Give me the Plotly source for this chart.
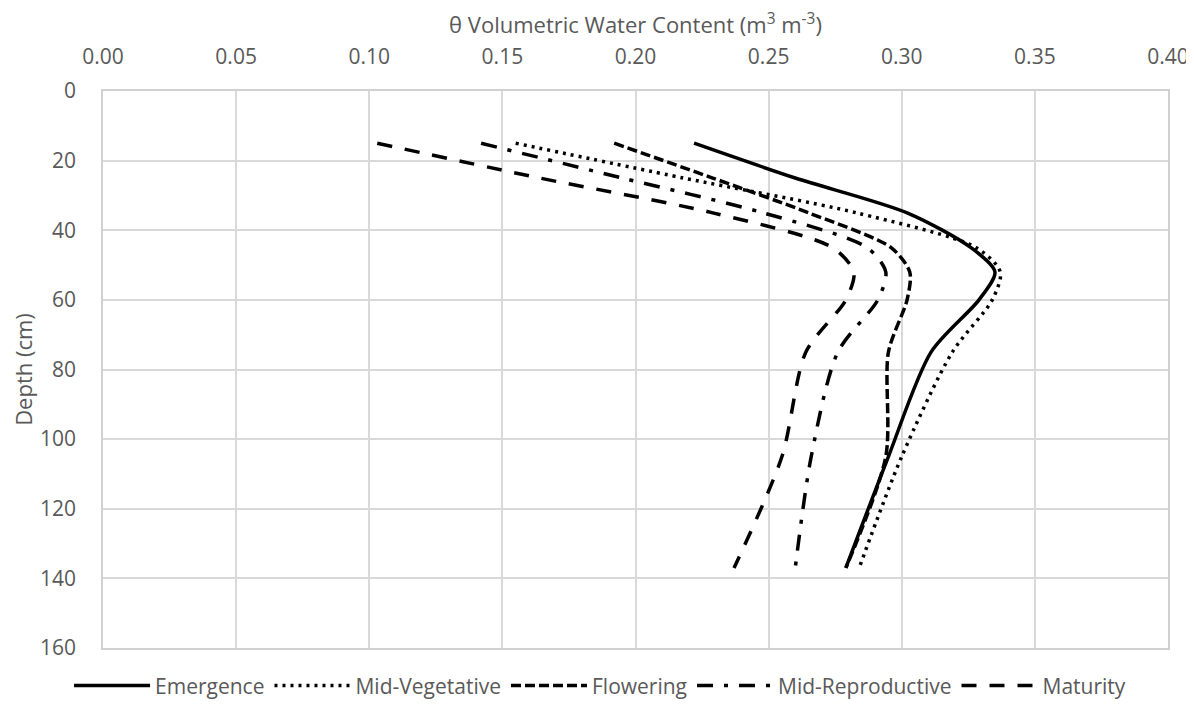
import plotly.graph_objects as go

depth = [15, 25, 35, 45, 52, 60, 75, 105, 137]

emergence = [0.222, 0.260, 0.302, 0.326, 0.335, 0.329, 0.311, 0.295, 0.279]
mid_vegetative = [0.155, 0.218, 0.283, 0.328, 0.337, 0.334, 0.319, 0.300, 0.284]
flowering = [0.192, 0.229, 0.265, 0.296, 0.303, 0.302, 0.295, 0.294, 0.279]
mid_reproductive = [0.142, 0.195, 0.248, 0.287, 0.294, 0.291, 0.276, 0.266, 0.260]
maturity = [0.103, 0.164, 0.229, 0.274, 0.282, 0.279, 0.264, 0.255, 0.237]

series_names = ["Emergence", "Mid-Vegetative", "Flowering", "Mid-Reproductive", "Maturity"]
series_values = [emergence, mid_vegetative, flowering, mid_reproductive, maturity]
dashes = ["solid", "3px,5px", "10px,4px", "16px,11px,4px,11px", "15px,13px"]

x_title = "θ Volumetric Water Content (m<sup>3</sup> m<sup>-3</sup>)"
y_title = "Depth (cm)"

FONT = "Open Sans, Liberation Sans, sans-serif"
GREY = "#595959"

fig = go.Figure()
for name, vals, dash in zip(series_names, series_values, dashes):
    fig.add_trace(go.Scatter(
        x=vals, y=depth, mode="lines", name=name,
        line=dict(color="black", width=3.5, dash=dash, shape="spline", smoothing=0.8),
    ))

fig.update_layout(
    width=1186, height=696,
    margin=dict(l=95, r=26, t=83, b=56),
    paper_bgcolor="white", plot_bgcolor="white",
    font=dict(family=FONT, color=GREY, size=21),
    showlegend=True,
    legend=dict(orientation="h", xref="container", x=0.4992, xanchor="center",
                yref="container", y=0.026, yanchor="middle",
                font=dict(size=21, color=GREY), itemwidth=76, traceorder="normal"),
    xaxis=dict(
        range=[0, 0.40], dtick=0.05, tick0=0, tickformat=".2f", side="top",
        showgrid=True, gridcolor="#d9d9d9", gridwidth=1.5, zeroline=False,
        showline=True, mirror=True, linecolor="#d0d0d0", linewidth=1.5,
        ticks="", ticklabelstandoff=17, automargin=False, ticklabeloverflow="allow",
        tickfont=dict(size=21, color=GREY),
        title=dict(text=x_title, font=dict(size=22, color=GREY), standoff=4),
    ),
    yaxis=dict(
        range=[160, 0], dtick=20, tick0=0,
        showgrid=True, gridcolor="#d9d9d9", gridwidth=1.5, zeroline=False,
        showline=True, mirror=True, linecolor="#d0d0d0", linewidth=1.5,
        ticks="", ticklabelstandoff=21, automargin=False,
        tickfont=dict(size=21, color=GREY),
        title=dict(text=y_title, font=dict(size=22, color=GREY), standoff=12),
    ),
)

fig.write_html("out.html")
